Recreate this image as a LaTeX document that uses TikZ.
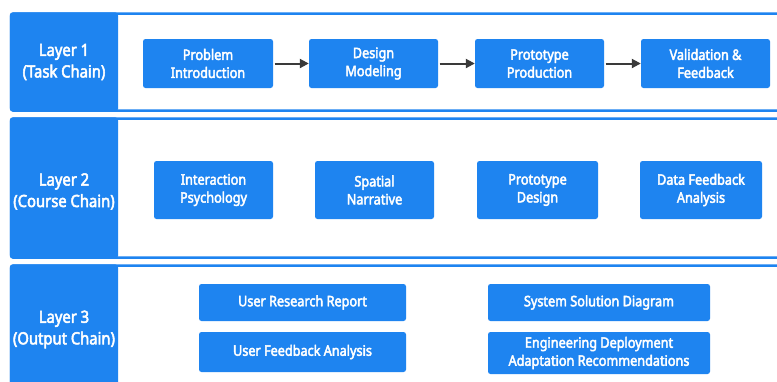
\documentclass[tikz,border=0pt]{standalone}
\usepackage{fontspec}
\setmainfont[FakeStretch=0.88,FakeBold=3]{Noto Sans}
\usetikzlibrary{arrows.meta}
\definecolor{mainblue}{RGB}{30,132,240}
\definecolor{arrowgray}{RGB}{58,58,58}
\tikzset{
  panel/.style={draw=mainblue, line width=2.5pt, fill=white, rounded corners=3pt},
  labelfill/.style={fill=mainblue, rounded corners=3pt},
  layerlabel/.style={text=white, align=center, font=\fontsize{16.8}{21.5}\selectfont},
  box/.style={fill=mainblue, rounded corners=2.5pt, text=white, align=center, inner sep=0pt,
    font=\fontsize{14.4}{18}\selectfont},
  flow/.style={draw=arrowgray, line width=2pt, -{Triangle[length=9pt,width=9pt]}, shorten <=1.5pt, shorten >=0pt}
}
\begin{document}
\begin{tikzpicture}[x=1pt,y=-1pt]
\useasboundingbox (0,0) rectangle (777,381);
\fill[white] (0,0) rectangle (777,381);
\clip (0,0) rectangle (777,381);
% Layer 1
\draw[panel] (11,13.5) rectangle (800,110.5);
\fill[labelfill] (9.75,12.25) rectangle (118,111.75);
\node[layerlabel] (l1) at (64,62) {Layer 1\\(Task Chain)};
% Layer 2
\draw[panel] (11,118.5) rectangle (800,257.5);
\fill[labelfill] (9.75,117.25) rectangle (118,258.75);
\node[layerlabel] (l2) at (64,191.5) {Layer 2\\(Course Chain)};
% Layer 3
\draw[panel] (11,265.5) rectangle (800,400);
\fill[labelfill] (9.75,264.25) rectangle (118,401);
\node[layerlabel] (l3) at (64,329.5) {Layer 3\\(Output Chain)};
% Layer 1 boxes
\node[box, minimum width=130pt, minimum height=49pt] (p) at (208,63.5) {Problem\\Introduction};
\node[box, minimum width=129pt, minimum height=49pt] (d) at (373.5,63.5) {Design\\Modeling};
\node[box, minimum width=129pt, minimum height=49pt] (pp) at (539.5,63.5) {Prototype\\Production};
\node[box, minimum width=129pt, minimum height=49pt] (v) at (705.5,63.5) {Validation \&\\Feedback};
\draw[flow] (p) -- (d);
\draw[flow] (d) -- (pp);
\draw[flow] (pp) -- (v);
% Layer 2 boxes
\node[box, minimum width=119pt, minimum height=58pt] (ip) at (213.5,190) {Interaction\\Psychology};
\node[box, minimum width=119pt, minimum height=58pt] (sn) at (374.5,190) {Spatial\\Narrative};
\node[box, minimum width=121pt, minimum height=58pt] (pd) at (537.5,190) {Prototype\\Design};
\node[box, minimum width=122pt, minimum height=58pt] (df) at (701,190) {Data Feedback\\Analysis};
% Layer 3 boxes
\node[box, minimum width=207pt, minimum height=37pt] (urr) at (302.5,302.5) {User Research Report};
\node[box, minimum width=207pt, minimum height=40pt] (ufa) at (302.5,352) {User Feedback Analysis};
\node[box, minimum width=222pt, minimum height=37pt] (ssd) at (599,302.5) {System Solution Diagram};
\node[box, minimum width=222pt, minimum height=42pt] (eda) at (599,353) {Engineering Deployment\\Adaptation Recommendations};
\end{tikzpicture}
\end{document}
